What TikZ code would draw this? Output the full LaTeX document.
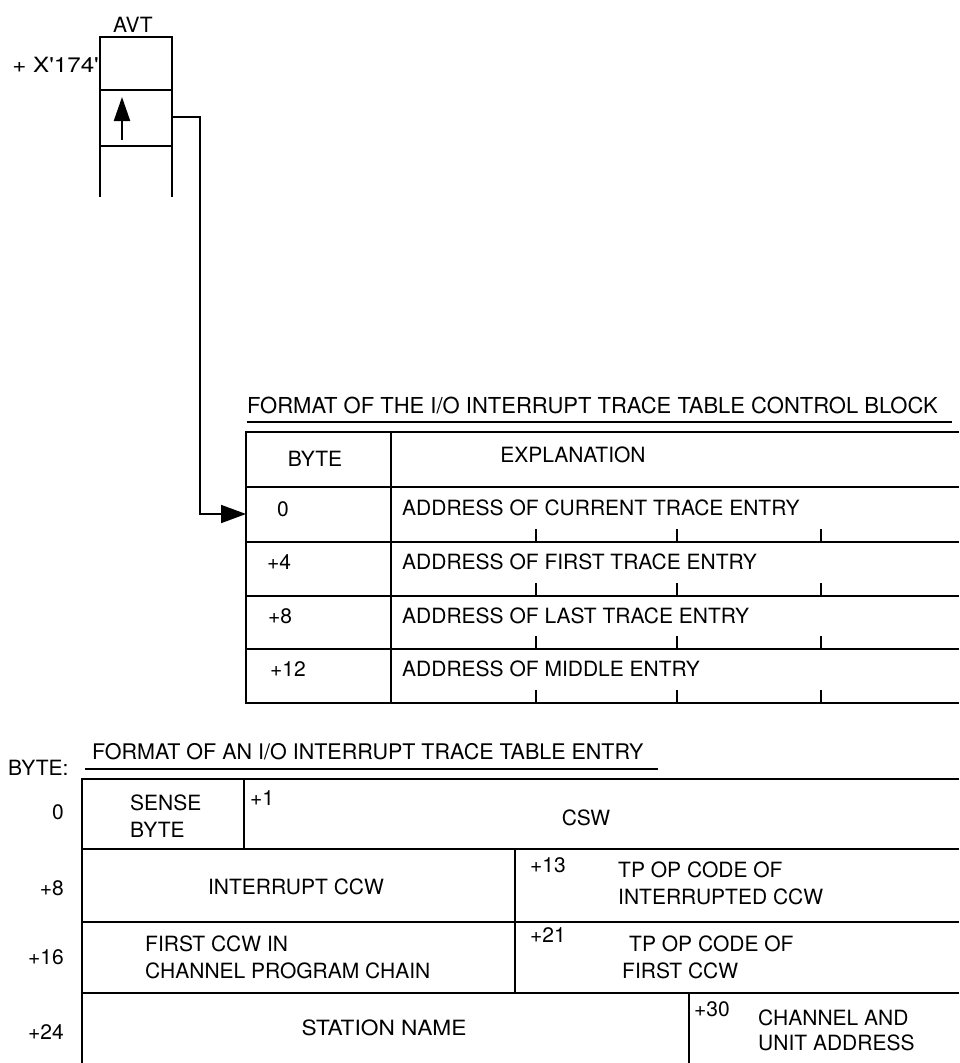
\documentclass[tikz,border=0pt]{standalone}
\usepackage{fontspec}
\setmainfont{TeX Gyre Heros}
\usetikzlibrary{arrows.meta}
\begin{document}
\begin{tikzpicture}[x=1pt,y=-1pt,
  rule/.style={line width=2.2pt},
  conn/.style={line width=1.8pt},
  lbl/.style={inner sep=0pt, font=\fontsize{21}{27}\selectfont},
  captxt/.style={inner sep=0pt, anchor=west, font=\fontsize{22}{27}\selectfont},
  lw/.style={lbl, anchor=west, align=left},
  le/.style={lbl, anchor=east},
  tickmark/.style={line width=2pt}]
\useasboundingbox (0,0) rectangle (959,1063);

% ---------------- AVT ----------------
\node[lbl] (avt) at (133,25) {AVT};
\node[le] (off) at (99,65) {\scalebox{1.15}[1]{+ X\textquotesingle 174\textquotesingle}};
\draw[rule] (100,197) -- (100,37) -- (172,37) -- (172,197);
\draw[rule] (100,90) -- (172,90);
\draw[rule] (100,146) -- (172,146);
\coordinate (ptrtail) at (122,140);
\coordinate (ptrhead) at (122,97);
\draw[line width=2.2pt, -{Triangle[length=24pt,width=16pt]}] (ptrtail) -- (ptrhead);

% connector
\coordinate (avtptr) at (172,117);
\coordinate (cbentry) at (246,514);
\draw[conn, -{Triangle[length=25pt,width=18pt]}] (avtptr) -- ++(28,0) |- (cbentry);

% ---------------- control block ----------------
\node[captxt] (cbcap) at (247,405) {FORMAT OF THE I/O INTERRUPT TRACE TABLE CONTROL BLOCK};
\draw[rule] (247,422) -- (952,422);
\draw[rule] (959,432) -- (246,432) -- (246,703) -- (959,703);
\foreach \yy in {487,542,596,649} {\draw[rule] (246,\yy) -- (959,\yy);}
\draw[rule] (391,432) -- (391,703);
\foreach \yy in {542,596,649,703} {
  \foreach \xx in {536,677,821} {\draw[tickmark] (\xx,\yy) -- (\xx,\yy-13);}
}
\node[lbl] (hbyte) at (315,459) {BYTE};
\node[lbl] (hexpl) at (573,455) {EXPLANATION};
\node[lw] (b0) at (277,509) {0};
\node[lw] (b4) at (267,562) {+4};
\node[lw] (b8) at (268,616) {+8};
\node[lw] (b12) at (270,669) {+12};
\node[lw] (e0) at (402,508) {ADDRESS OF CURRENT TRACE ENTRY};
\node[lw] (e4) at (402,562) {ADDRESS OF FIRST TRACE ENTRY};
\node[lw] (e8) at (402,616) {ADDRESS OF LAST TRACE ENTRY};
\node[lw] (e12) at (402,669) {ADDRESS OF MIDDLE ENTRY};

% ---------------- trace table entry ----------------
\node[captxt, font=\fontsize{21.5}{27}\selectfont] (encap) at (92,752) {FORMAT OF AN I/O INTERRUPT TRACE TABLE ENTRY};
\draw[rule] (85,769) -- (658,769);
\node[lw] (bytecol) at (8,768) {BYTE:};
\draw[rule] (959,779) -- (82,779) -- (82,1063);
\foreach \yy in {849,922,993} {\draw[rule] (82,\yy) -- (959,\yy);}
\draw[rule] (244,779) -- (244,849);
\draw[rule] (515,849) -- (515,993);
\draw[rule] (689,993) -- (689,1063);

\node[le] (r0) at (64,812) {0};
\node[le] (r8) at (64,888) {+8};
\node[le] (r16) at (64,957) {+16};
\node[le] (r24) at (64,1032) {+24};

\node[lw] (sense) at (130,816) {SENSE\\BYTE};
\node[lw] (p1) at (250,798) {+1};
\node[lbl] (csw) at (586,818) {CSW};

\node[lbl] (iccw) at (296,887) {INTERRUPT CCW};
\node[lw] (p13) at (530,865) {+13};
\node[lw] (tpint) at (618,883) {TP OP CODE OF\\INTERRUPTED CCW};

\node[lw] (first) at (145,957) {FIRST CCW IN\\CHANNEL PROGRAM CHAIN};
\node[lw] (p21) at (530,935) {+21};
\node[lw] (tpfirst) at (622,957) {\hspace*{7pt}TP OP CODE OF\\FIRST CCW};

\node[lbl] (station) at (384,1028) {\scalebox{1.08}[1]{STATION NAME}};
\node[lw] (p30) at (694,1009) {+30};
\node[lw, font=\fontsize{21}{25}\selectfont] (chan) at (758,1030) {CHANNEL AND\\UNIT ADDRESS};
\end{tikzpicture}
\end{document}
